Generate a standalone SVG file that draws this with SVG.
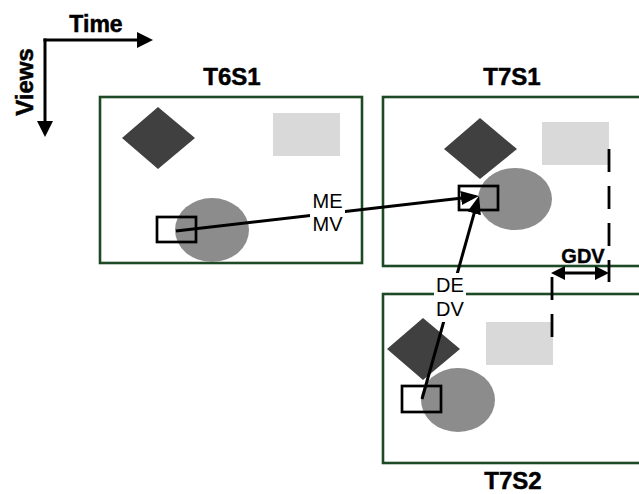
<svg xmlns="http://www.w3.org/2000/svg" width="639" height="494" viewBox="0 0 639 494">
<style>
.frame{fill:#fff;stroke:#1d4a25;stroke-width:2.6}
.dia{fill:#404040}
.lite{fill:#d9d9d9}
.ell{fill:#8c8c8c}
.blk{fill:none;stroke:#000;stroke-width:2.7}
.title{font-family:"Liberation Sans",Arial,sans-serif;font-weight:bold;font-size:24px;text-anchor:middle;fill:#000;stroke:#000;stroke-width:0.5}
.gdv{font-family:"Liberation Sans",Arial,sans-serif;font-weight:bold;font-size:20px;text-anchor:middle;fill:#000;stroke:#000;stroke-width:0.4}
.lbl{font-family:"Liberation Sans",Arial,sans-serif;font-size:20px;text-anchor:middle;fill:#000}
.conn{stroke:#000;stroke-width:3;fill:none}
.dash{stroke:#000;stroke-width:2.8;fill:none;stroke-dasharray:23 14}
</style>
<defs>
<marker id="ah" viewBox="0 0 18 14" refX="10" refY="7" markerWidth="18" markerHeight="14" markerUnits="userSpaceOnUse" orient="auto"><path d="M0,0 L18,7 L0,14 z" fill="#000"/></marker>
<marker id="axh" viewBox="0 0 16 16" refX="8" refY="8" markerWidth="16" markerHeight="16" markerUnits="userSpaceOnUse" orient="auto"><path d="M0,0 L16,8 L0,16 z" fill="#000"/></marker>
<marker id="gh" viewBox="0 0 14 14" refX="6" refY="7" markerWidth="14" markerHeight="14" markerUnits="userSpaceOnUse" orient="auto-start-reverse"><path d="M0,0 L14,7 L0,14 z" fill="#000"/></marker>
</defs>
<g id="axes">
<line class="conn" x1="43.5" y1="40" x2="145" y2="40" marker-end="url(#axh)"/>
<line class="conn" x1="45" y1="38.5" x2="45" y2="129" marker-end="url(#axh)"/>
<text x="96" y="32" style="font-family:'Liberation Sans',Arial,sans-serif;font-weight:bold;font-size:23px;text-anchor:middle;stroke:#000;stroke-width:0.5">Time</text>
<text transform="translate(33,82) rotate(-90)" style="font-family:'Liberation Sans',Arial,sans-serif;font-weight:bold;font-size:24px;text-anchor:middle;stroke:#000;stroke-width:0.5">Views</text>
</g>
<g id="T6S1">
<rect class="frame" x="100" y="97" width="262" height="166"/>
<polygon class="dia" points="122,138 158,107 195,138 158,169"/>
<rect class="lite" x="273" y="113" width="67" height="43"/>
<ellipse class="ell" cx="212" cy="230" rx="37" ry="32"/>
<rect class="blk" x="157" y="217" width="39" height="25"/>
<text class="title" x="232" y="84.5">T6S1</text>
</g>
<g id="T7S1">
<rect class="frame" x="383" y="97" width="262" height="169"/>
<polygon class="dia" points="444,149 480,118 517,149 480,179"/>
<rect class="lite" x="542" y="122" width="67" height="43"/>
<ellipse class="ell" cx="515" cy="199" rx="37" ry="31"/>
<rect class="blk" x="459" y="186" width="39" height="24"/>
<text class="title" x="512" y="84.5">T7S1</text>
</g>
<g id="T7S2">
<rect class="frame" x="383" y="294" width="262" height="169"/>
<polygon class="dia" points="387,349 423,318 460,349 423,380"/>
<rect class="lite" x="486" y="322" width="67" height="43"/>
<ellipse class="ell" cx="458" cy="400" rx="37" ry="32"/>
<rect class="blk" x="402" y="386" width="39" height="26"/>
<text class="title" x="513" y="489">T7S2</text>
</g>
<g id="connectors">
<line class="dash" x1="609" y1="149" x2="609" y2="282"/>
<line class="dash" x1="552" y1="277" x2="552" y2="337"/>
<line class="conn" x1="559" y1="273" x2="601" y2="273" marker-start="url(#gh)" marker-end="url(#gh)"/>
<text class="gdv" x="583" y="263">GDV</text>
<line class="conn" x1="176" y1="231" x2="471.05" y2="196.92" marker-end="url(#ah)"/>
<line class="conn" x1="422" y1="399" x2="476.84" y2="203.7" marker-end="url(#ah)"/>
<g id="me-label">
<rect x="310" y="190" width="35" height="46" fill="#fff"/>
<text class="lbl" x="327.5" y="208">ME</text>
<text class="lbl" x="327.5" y="231">MV</text>
</g>
<g id="de-label">
<rect x="434" y="273" width="32" height="49" fill="#fff"/>
<text class="lbl" x="450" y="292">DE</text>
<text class="lbl" x="450" y="316">DV</text>
</g>
</g>
</svg>
